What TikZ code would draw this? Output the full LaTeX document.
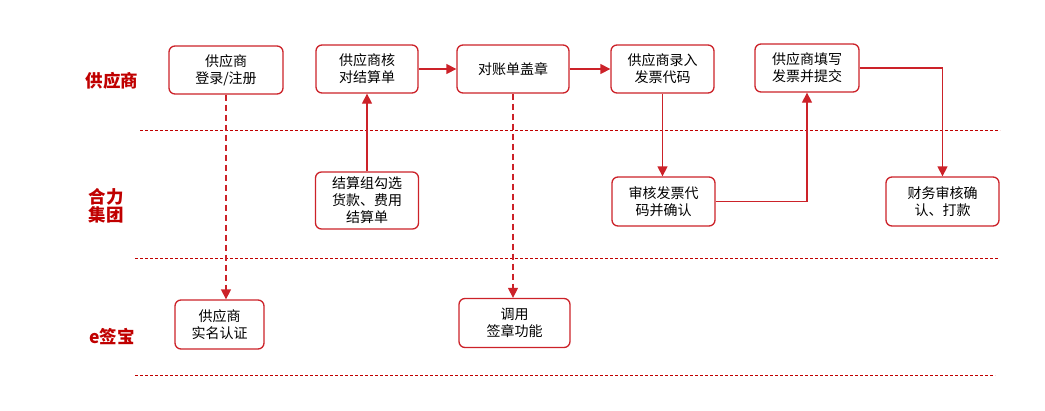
\documentclass[tikz,border=0pt]{standalone}
\usepackage{fontspec}
\setmainfont{Noto Sans CJK SC}
\usetikzlibrary{arrows.meta}
\definecolor{lred}{HTML}{C00000}
\definecolor{bred}{HTML}{CC2229}
\begin{document}
\begin{tikzpicture}[x=1pt,y=-1pt,
  box/.style={draw=bred,line width=1.3pt,rounded corners=6pt,fill=white,align=center,
    font=\fontsize{14}{17}\selectfont,inner sep=0pt},
  lane/.style={text=lred,font=\fontsize{17.5}{20}\selectfont\bfseries,align=center},
  sep/.style={draw=lred,line width=0.8pt,dash pattern=on 3pt off 2pt},
  conn/.style={draw=bred,line width=1.3pt,-{Triangle[length=10pt,width=10pt]}},
  dconn/.style={conn,dash pattern=on 6pt off 4pt}]
\useasboundingbox (0,0) rectangle (1045,410);
% lanes
\node[lane] (l1) at (112,81) {供应商};
\node[lane] (l2) at (106,206) {合力\\[-2pt]集团};
\node[lane] (l3) at (112,337) {e签宝};
\coordinate (s1a) at (140,130); \coordinate (s1b) at (1000,130);
\coordinate (s2a) at (135,258); \coordinate (s2b) at (998,258);
\coordinate (s3a) at (135,375); \coordinate (s3b) at (995,375);
\draw[sep] (s1a) -- (s1b);
\draw[sep] (s2a) -- (s2b);
\draw[sep] (s3a) -- (s3b);
% boxes
\node[box,minimum width=114pt,minimum height=48pt] (b1) at (226,70) {供应商\\登录/注册};
\node[box,minimum width=102pt,minimum height=48pt] (b2) at (367,69) {供应商核\\对结算单};
\node[box,minimum width=112pt,minimum height=48pt] (b3) at (513,69) {对账单盖章};
\node[box,minimum width=103pt,minimum height=48pt] (b4) at (662.5,69) {供应商录入\\发票代码};
\node[box,minimum width=104pt,minimum height=48pt] (b5) at (807,68) {供应商填写\\发票并提交};
\node[box,minimum width=103pt,minimum height=57pt] (b6) at (367,200.5) {结算组勾选\\货款、费用\\结算单};
\node[box,minimum width=103pt,minimum height=49pt] (b7) at (663.5,201.5) {审核发票代\\码并确认};
\node[box,minimum width=113pt,minimum height=49pt] (b8) at (942.5,201.5) {财务审核确\\认、打款};
\node[box,minimum width=89pt,minimum height=49pt] (b9) at (219.5,324.5) {供应商\\实名认证};
\node[box,minimum width=111pt,minimum height=49pt] (b10) at (514.5,323) {调用\\签章功能};
% connectors
\draw[dconn] (b1.south -| 226,0) -- (b9.north -| 226,0);
\draw[conn] (b2.east) -- (b3.west);
\draw[conn] (b3.east) -- (b4.west);
\draw[conn] (b6.north) -- (b2.south);
\draw[dconn] (b3.south) -- (b10.north -| b3.south);
\draw[conn] (b4.south) -- (b7.north -| b4.south);
\draw[conn] (b7.east) -| (b5.south);
\draw[conn] (b5.east) -| (b8.north);
\end{tikzpicture}
\end{document}
